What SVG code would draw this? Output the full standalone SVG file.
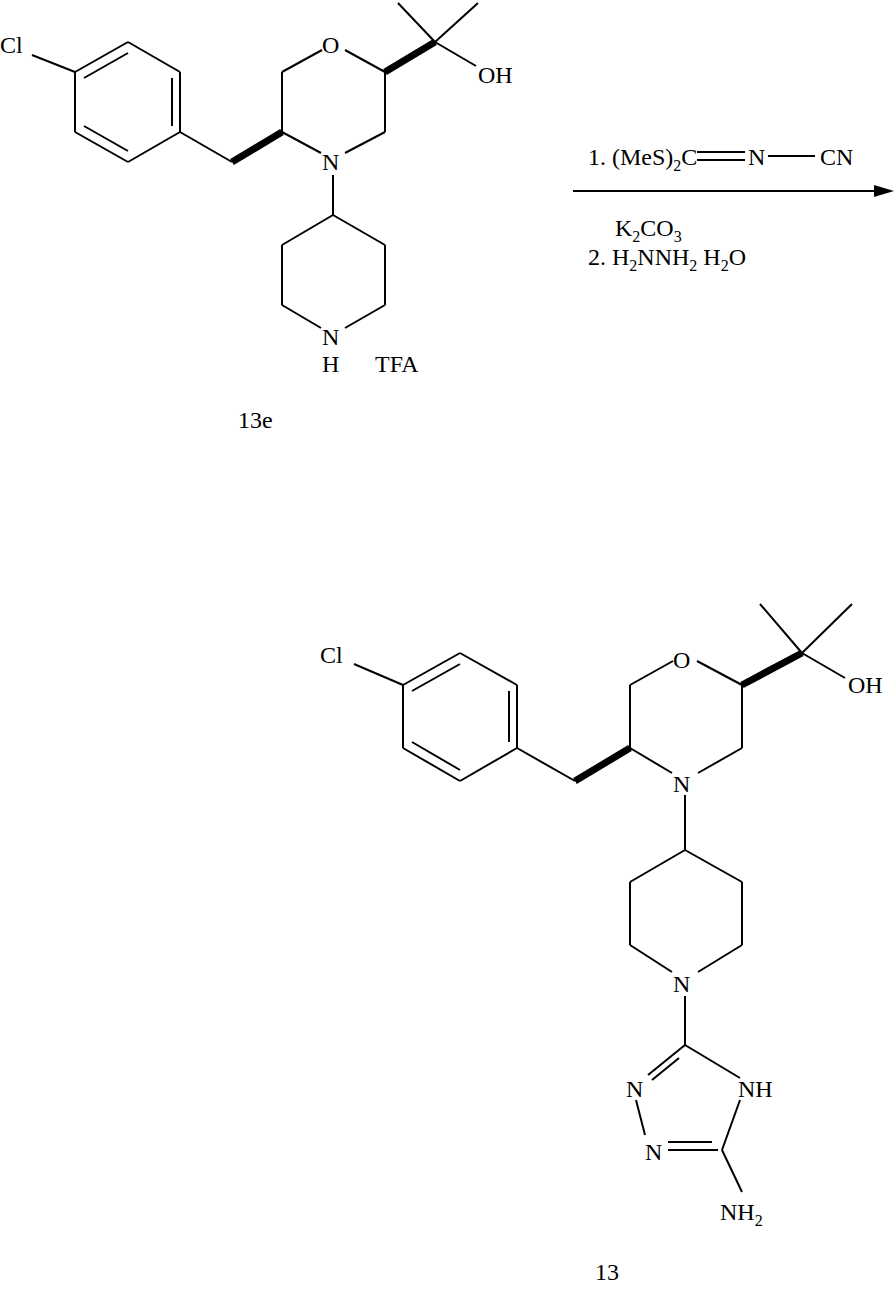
<svg xmlns="http://www.w3.org/2000/svg" width="896" height="1289" viewBox="0 0 896 1289">
<style>
line{stroke:#000;stroke-width:2}
.b{stroke-width:7}
text{font-family:"Liberation Serif",serif;font-size:24px;fill:#000}
</style>
<rect width="896" height="1289" fill="#fff"/>
<g id="m13e">
<line x1="32" y1="55" x2="75" y2="72"/>
<line x1="75" y1="72" x2="128" y2="42"/><line x1="128" y1="42" x2="180" y2="72"/>
<line x1="180" y1="72" x2="180" y2="132"/><line x1="180" y1="132" x2="128" y2="162"/>
<line x1="128" y1="162" x2="75" y2="132"/><line x1="75" y1="132" x2="75" y2="72"/>
<line x1="84" y1="78" x2="128" y2="53"/><line x1="172" y1="78" x2="172" y2="126"/><line x1="84" y1="126" x2="128" y2="151"/>
<line x1="180" y1="132" x2="232" y2="162"/>
<line class="b" x1="232" y1="162" x2="282" y2="132"/>
<line x1="282" y1="132" x2="282" y2="72"/><line x1="282" y1="72" x2="322" y2="50"/>
<line x1="345" y1="50" x2="385" y2="72"/><line x1="385" y1="72" x2="385" y2="132"/>
<line x1="385" y1="132" x2="345" y2="153"/><line x1="321" y1="153" x2="282" y2="132"/>
<line class="b" x1="385" y1="72" x2="435" y2="42"/>
<line x1="435" y1="42" x2="398" y2="3"/><line x1="435" y1="42" x2="478" y2="3"/><line x1="435" y1="42" x2="476" y2="66"/>
<line x1="333" y1="175" x2="333" y2="215"/>
<line x1="333" y1="215" x2="385" y2="245"/><line x1="385" y1="245" x2="385" y2="305"/>
<line x1="385" y1="305" x2="345" y2="328"/><line x1="321" y1="328" x2="282" y2="305"/>
<line x1="282" y1="305" x2="282" y2="245"/><line x1="282" y1="245" x2="333" y2="215"/>
<text x="0" y="53">Cl</text><text x="322" y="53">O</text><text x="478" y="83">OH</text>
<text x="322" y="170">N</text><text x="322" y="345">N</text><text x="322" y="372">H</text><text x="375" y="372">TFA</text>
<text x="238" y="428">13e</text>
</g>
<g id="arrow">
<line x1="573" y1="191" x2="880" y2="191"/><polygon points="894,191 874,185 874,197"/>
<text x="588" y="165">1. (MeS)<tspan font-size="16" dy="6">2</tspan><tspan dy="-6">C</tspan></text>
<line x1="697" y1="152" x2="745" y2="152"/><line x1="697" y1="160" x2="745" y2="160"/>
<text x="748" y="165">N</text><line x1="768" y1="156" x2="815" y2="156"/><text x="820" y="165">CN</text>
<text x="615" y="236">K<tspan font-size="16" dy="6">2</tspan><tspan dy="-6">CO</tspan><tspan font-size="16" dy="6">3</tspan></text>
<text x="588" y="265">2. H<tspan font-size="16" dy="6">2</tspan><tspan dy="-6">NNH</tspan><tspan font-size="16" dy="6">2</tspan><tspan dy="-6"> H</tspan><tspan font-size="16" dy="6">2</tspan><tspan dy="-6">O</tspan></text>
</g>
<g id="m13">
<line x1="354" y1="664" x2="403" y2="685"/>
<line x1="403" y1="685" x2="460" y2="653"/><line x1="460" y1="653" x2="517" y2="685"/>
<line x1="517" y1="685" x2="517" y2="748"/><line x1="517" y1="748" x2="460" y2="781"/>
<line x1="460" y1="781" x2="403" y2="748"/><line x1="403" y1="748" x2="403" y2="685"/>
<line x1="412" y1="691" x2="460" y2="664"/><line x1="509" y1="691" x2="509" y2="742"/><line x1="412" y1="742" x2="460" y2="770"/>
<line x1="517" y1="748" x2="575" y2="781"/>
<line class="b" x1="575" y1="781" x2="630" y2="748"/>
<line x1="630" y1="748" x2="630" y2="685"/><line x1="630" y1="685" x2="673" y2="661"/>
<line x1="697" y1="661" x2="742" y2="685"/><line x1="742" y1="685" x2="742" y2="748"/>
<line x1="742" y1="748" x2="698" y2="773"/><line x1="672" y1="773" x2="630" y2="748"/>
<line class="b" x1="742" y1="685" x2="802" y2="653"/>
<line x1="802" y1="653" x2="760" y2="604"/><line x1="802" y1="653" x2="852" y2="604"/><line x1="802" y1="653" x2="845" y2="678"/>
<line x1="685" y1="795" x2="685" y2="850"/>
<line x1="685" y1="850" x2="742" y2="882"/><line x1="742" y1="882" x2="742" y2="945"/>
<line x1="742" y1="945" x2="698" y2="972"/><line x1="672" y1="972" x2="630" y2="945"/>
<line x1="630" y1="945" x2="630" y2="882"/><line x1="630" y1="882" x2="685" y2="850"/>
<line x1="685" y1="996" x2="685" y2="1045"/>
<line x1="685" y1="1045" x2="740" y2="1078"/>
<line x1="685" y1="1045" x2="648" y2="1075"/><line x1="679" y1="1058" x2="652" y2="1080"/>
<line x1="636" y1="1100" x2="645" y2="1135"/>
<line x1="668" y1="1150" x2="718" y2="1150"/><line x1="668" y1="1142" x2="712" y2="1142"/>
<line x1="740" y1="1100" x2="722" y2="1150"/>
<line x1="722" y1="1150" x2="742" y2="1192"/>
<text x="320" y="663">Cl</text><text x="673" y="668">O</text><text x="848" y="693">OH</text>
<text x="673" y="792">N</text><text x="673" y="992">N</text>
<text x="626" y="1097">N</text><text x="645" y="1160">N</text><text x="738" y="1097">NH</text>
<text x="720" y="1220">NH<tspan font-size="16" dy="6">2</tspan></text>
<text x="595" y="1280">13</text>
</g>
</svg>
